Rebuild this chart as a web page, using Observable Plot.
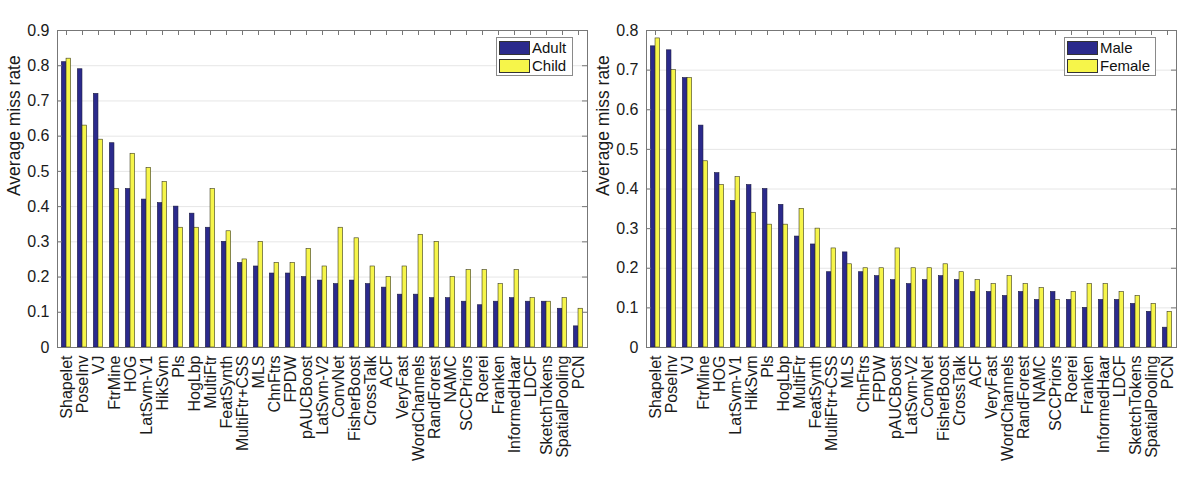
<!DOCTYPE html>
<html><head><meta charset="utf-8">
<script src="https://cdn.jsdelivr.net/npm/d3@7"></script>
<script src="https://cdn.jsdelivr.net/npm/@observablehq/plot@0.6"></script>
<style>
body{margin:0;background:#fff;font-family:"Liberation Sans",Arial,sans-serif;}
#wrap{position:relative;width:1200px;height:484px;display:flex;}
.legend{position:absolute;background:#fff;border:1px solid #8a8a8a;font-size:15px;color:#111;box-sizing:border-box;}
.legend .sw{position:absolute;left:2px;width:31px;height:14px;border:1px solid #333;box-sizing:border-box;}
.legend .lb{position:absolute;left:35px;line-height:17px;}
</style>
</head><body>
<div id="wrap"></div>
<script>
const categories = ["Shapelet","PoseInv","VJ","FtrMine","HOG","LatSvm-V1","HikSvm","Pls","HogLbp","MultiFtr","FeatSynth","MultiFtr+CSS","MLS","ChnFtrs","FPDW","pAUCBoost","LatSvm-V2","ConvNet","FisherBoost","CrossTalk","ACF","VeryFast","WordChannels","RandForest","NAMC","SCCPriors","Roerei","Franken","InformedHaar","LDCF","SketchTokens","SpatialPooling","PCN"];
const adult = [0.81,0.79,0.72,0.58,0.45,0.42,0.41,0.40,0.38,0.34,0.30,0.24,0.23,0.21,0.21,0.20,0.19,0.18,0.19,0.18,0.17,0.15,0.15,0.14,0.14,0.13,0.12,0.13,0.14,0.13,0.13,0.11,0.06];
const child = [0.82,0.63,0.59,0.45,0.55,0.51,0.47,0.34,0.34,0.45,0.33,0.25,0.30,0.24,0.24,0.28,0.23,0.34,0.31,0.23,0.20,0.23,0.32,0.30,0.20,0.22,0.22,0.18,0.22,0.14,0.13,0.14,0.11];
const male = [0.76,0.75,0.68,0.56,0.44,0.37,0.41,0.40,0.36,0.28,0.26,0.19,0.24,0.19,0.18,0.17,0.16,0.17,0.18,0.17,0.14,0.14,0.13,0.14,0.12,0.14,0.12,0.10,0.12,0.12,0.11,0.09,0.05];
const female = [0.78,0.70,0.68,0.47,0.41,0.43,0.34,0.31,0.31,0.35,0.30,0.25,0.21,0.20,0.20,0.25,0.20,0.20,0.21,0.19,0.17,0.16,0.18,0.16,0.15,0.12,0.14,0.16,0.16,0.14,0.13,0.11,0.09];
const yTicksAge = [0,0.1,0.2,0.3,0.4,0.5,0.6,0.7,0.8,0.9];
const yTicksGender = [0,0.1,0.2,0.3,0.4,0.5,0.6,0.7,0.8];
const seriesAge = ["Adult","Child"];
const seriesGender = ["Male","Female"];
const yLabel = "Average miss rate";

const BLUE = "#2b2a8c", YELLOW = "#f6f54a";

function panel({width, height, mL, mR, mT, mB, yMax, yTicks, s1, s2, labelDx}) {
  const rows1 = categories.map((c, i) => ({cat: c, v: s1[i]}));
  const rows2 = categories.map((c, i) => ({cat: c, v: s2[i]}));
  const plotW = width - mL - mR, plotH = height - mT - mB;
  const bw = plotW / categories.length;
  const barW = 0.29 * bw;
  const fmt = d => d === 0 ? "0" : d3.format(".1f")(d);
  return Plot.plot({
    width, height, marginLeft: mL, marginRight: mR, marginTop: mT, marginBottom: mB,
    style: {fontFamily: "'Liberation Sans', Arial, sans-serif", fontSize: "16px", color: "#1a1a1a", background: "#fff", overflow: "visible"},
    x: {domain: categories, padding: 0, label: null},
    y: {domain: [0, yMax], label: null},
    marks: [
      Plot.gridY(yTicks, {stroke: "#e6e6e6", strokeOpacity: 1}),
      Plot.barY(rows1, {x: "cat", y: "v", fill: BLUE, stroke: "#1a1a40", strokeWidth: 0.6, insetLeft: bw / 2 - barW, insetRight: bw / 2}),
      Plot.barY(rows2, {x: "cat", y: "v", fill: YELLOW, stroke: "#3a3a20", strokeWidth: 0.6, insetLeft: bw / 2, insetRight: bw / 2 - barW}),
      Plot.axisY(yTicks, {tickSize: 0, tickPadding: 8, label: null, tickFormat: fmt}),
      Plot.axisX({tickSize: 0, tickRotate: -90, tickPadding: 8, label: null}),
      Plot.ruleY(yTicks, {insetRight: plotW - 5, stroke: "#777"}),
      Plot.ruleY(yTicks, {insetLeft: plotW - 5, stroke: "#777"}),
      Plot.ruleX(categories, {x: d => d, insetBottom: plotH - 5, stroke: "#777"}),
      Plot.frame({stroke: "#777"}),
      Plot.text([yLabel], {frameAnchor: "left", rotate: -90, dx: labelDx, dy: 7, fontSize: 17.5})
    ]
  });
}

function legend(names, left, top, width) {
  const el = document.createElement("div");
  el.className = "legend";
  Object.assign(el.style, {left: left + "px", top: top + "px", width: width + "px", height: "39px"});
  [BLUE, YELLOW].forEach((col, i) => {
    const sw = document.createElement("div");
    sw.className = "sw";
    sw.style.top = (3 + i * 18) + "px";
    sw.style.background = col;
    const lb = document.createElement("div");
    lb.className = "lb";
    lb.style.top = (1 + i * 18) + "px";
    lb.textContent = names[i];
    el.appendChild(sw); el.appendChild(lb);
  });
  return el;
}

const wrap = document.getElementById("wrap");
wrap.appendChild(panel({width: 590, height: 484, mL: 57, mR: 3, mT: 30, mB: 137, yMax: 0.9, yTicks: yTicksAge, s1: adult, s2: child, labelDx: -43}));
wrap.appendChild(panel({width: 610, height: 484, mL: 56, mR: 24, mT: 30, mB: 137, yMax: 0.8, yTicks: yTicksGender, s1: male, s2: female, labelDx: -43}));
wrap.appendChild(legend(seriesAge, 496, 37, 77));
wrap.appendChild(legend(seriesGender, 1064, 37, 92));
</script>
</body></html>
